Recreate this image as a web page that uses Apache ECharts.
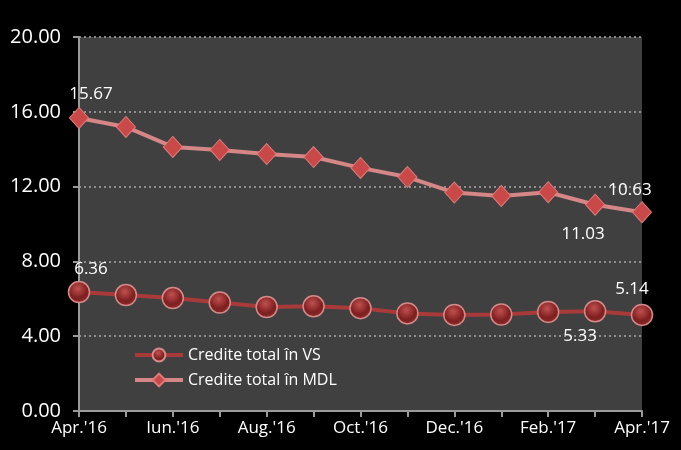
<!DOCTYPE html>
<html><head><meta charset="utf-8">
<script src="https://cdn.jsdelivr.net/npm/echarts@6/dist/echarts.min.js"></script>
<style>html,body{margin:0;padding:0;background:#000}#c{width:681px;height:450px}</style>
</head><body><div id="c"></div>
<script>
const categories = ["Apr.'16","May.'16","Iun.'16","Jul.'16","Aug.'16","Sep.'16","Oct.'16","Nov.'16","Dec.'16","Jan.'17","Feb.'17","Mar.'17","Apr.'17"];
const vsValues = [6.36, 6.2, 6.04, 5.8, 5.56, 5.6, 5.5, 5.22, 5.14, 5.16, 5.3, 5.33, 5.14];
const mdlValues = [15.67, 15.19, 14.12, 13.96, 13.74, 13.58, 13.0, 12.51, 11.68, 11.5, 11.7, 11.03, 10.63];
const yTicks = [0, 4, 8, 12, 16, 20];
const labelled = {0:'top', 11:'bottom', 12:'top'};

const font = "'Open Sans', 'DejaVu Sans', sans-serif";
function withLabels(vals, offsets){
  return vals.map((v,i)=>{
    if(labelled[i]===undefined) return v;
    return {value:v, label:{show:true, position:labelled[i], offset:offsets[i]||[0,0], formatter:(p)=>p.value.toFixed(2), color:'#fff', fontSize:17, fontFamily:font}};
  });
}
const chart = echarts.init(document.getElementById('c'));
chart.setOption({
  backgroundColor:'#000',
  animation:false,
  grid:{left:79, right:39, top:37, bottom:39, show:true, backgroundColor:'#404040', borderWidth:0},
  legend:{
    orient:'vertical', left:128, top:342, itemGap:9, itemWidth:48, itemHeight:16,
    textStyle:{color:'#fff', fontSize:16, fontFamily:font},
    lineStyle:{width:4},
    data:['Credite total în VS','Credite total în MDL']
  },
  xAxis:{
    type:'category', data:categories, boundaryGap:false,
    axisLine:{lineStyle:{color:'#9a9a9a', width:2}},
    axisTick:{show:true, length:6, lineStyle:{color:'#9a9a9a', width:2}, interval:0},
    axisLabel:{color:'#fff', fontSize:17, fontFamily:font, interval:1, margin:9},
    splitLine:{show:false}
  },
  yAxis:{
    type:'value', min:0, max:20, interval:4,
    axisLine:{show:true, lineStyle:{color:'#9a9a9a', width:2}},
    axisTick:{show:true, length:6, lineStyle:{color:'#9a9a9a', width:2}},
    axisLabel:{color:'#fff', fontSize:20, fontFamily:font, formatter:(v)=>v.toFixed(2), margin:18},
    splitLine:{show:true, lineStyle:{color:'#a8a8a8', type:[2,3], width:1.5}}
  },
  series:[
    {
      name:'Credite total în VS', type:'line', data:withLabels(vsValues, {0:[12,2],11:[-15,0],12:[-10,-1]}),
      symbol:'circle', symbolSize:21,
      lineStyle:{color:'#a83a3a', width:4},
      itemStyle:{color:{type:'radial', x:0.45, y:0.35, r:0.6, colorStops:[{offset:0,color:'#c05050'},{offset:0.7,color:'#7e1f1f'},{offset:1,color:'#8a2a2a'}]}, borderColor:'#d48a8a', borderWidth:1.5},
      z:3
    },
    {
      name:'Credite total în MDL', type:'line', data:withLabels(mdlValues, {0:[12,1],11:[-12,5],12:[-12,2]}),
      symbol:'diamond', symbolSize:[19,21],
      lineStyle:{color:'#d58686', width:4},
      itemStyle:{color:'#c94848', borderColor:'#e07a7a', borderWidth:1},
      z:4
    }
  ]
});
</script></body></html>
